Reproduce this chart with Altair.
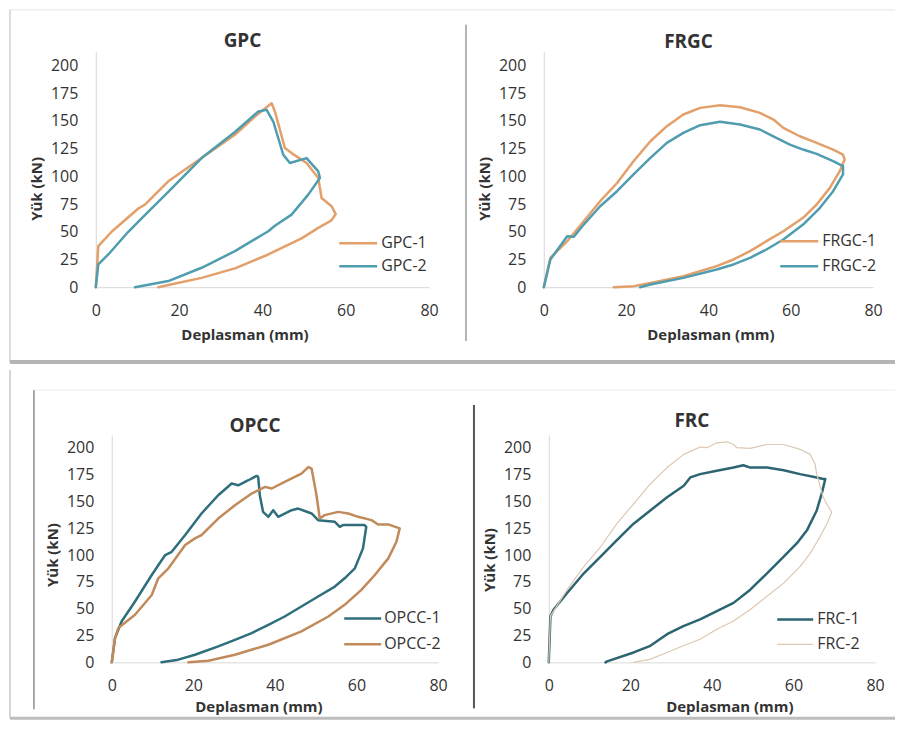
import altair as alt
import pandas as pd

FONT = "Open Sans"
X_TICKS = [0, 20, 40, 60, 80]
Y_TICKS = [0, 25, 50, 75, 100, 125, 150, 175, 200]
X_TITLE = "Deplasman (mm)"
Y_TITLE = "Yük (kN)"

# ---------------- GPC ----------------
GPC_NAMES = ["GPC-1", "GPC-2"]
GPC1_X = [0, 0.6, 3.8, 10.2, 11.8, 17.4, 25.4, 33.4, 38.2, 42.2, 43.0, 45.4, 47.0, 50.6, 53.4, 54.2, 56.6, 57.6, 56.5, 53.4, 49.4, 41.4, 33.4, 25.4, 17.4, 15.0]
GPC1_Y = [0, 37, 50, 71, 74.5, 95.5, 116.5, 137.5, 154, 166, 158.5, 125.5, 121, 112, 98.5, 80.5, 73, 66, 60, 53.5, 44, 29.5, 17, 8.4, 2, 0]
GPC2_X = [0, 0.6, 3.0, 7.8, 11.0, 17.4, 25.4, 33.4, 39.0, 41.0, 42.6, 45.0, 46.6, 50.6, 53.4, 53.8, 51.0, 47.0, 43.0, 41.4, 33.4, 25.4, 17.4, 9.4]
GPC2_Y = [0, 20.5, 29.5, 50, 62, 86, 116.5, 140, 158.5, 160, 149.5, 119.5, 112, 116.5, 104.5, 98.5, 83.5, 65.5, 55.5, 50.5, 32.5, 17.5, 5.5, 0]

# ---------------- FRGC ----------------
FRGC_NAMES = ["FRGC-1", "FRGC-2"]
FRGC1_X = [0, 1.6, 5.7, 9.7, 13.7, 17.8, 21.8, 25.9, 29.9, 33.9, 38.0, 42.8, 47.7, 52.5, 55.8, 58.2, 62.2, 66.3, 70.3, 72.7, 73.1, 71.9, 69.5, 66.3, 63.0, 58.2, 54.1, 50.1, 46.1, 42.0, 33.9, 25.9, 21.8, 17.0]
FRGC1_Y = [0, 26.5, 41.5, 59.5, 77.6, 94, 113.7, 131.7, 145.3, 155.8, 161.8, 164.2, 162.4, 157.3, 151.3, 143.8, 136.2, 130.2, 124.2, 119.7, 115.2, 104.7, 89.6, 74.6, 62.6, 50.5, 41.5, 32.5, 25, 19, 9.9, 3.9, 0.9, 0]
FRGC2_X = [0, 1.6, 5.7, 7.3, 9.7, 13.7, 17.8, 21.8, 25.9, 29.9, 33.9, 38.0, 42.8, 47.7, 52.5, 56.5, 59.8, 63.0, 66.3, 70.3, 72.7, 72.7, 70.3, 67.1, 63.0, 58.2, 54.1, 50.1, 46.1, 42.0, 33.9, 25.9, 23.4]
FRGC2_Y = [0, 25, 46, 45.5, 56.5, 73, 86.6, 101.7, 116.7, 130.2, 139.2, 146.2, 149.2, 146.8, 142.3, 134.7, 128.7, 124.2, 120.3, 113.7, 109.2, 101.7, 86.6, 71.6, 56.5, 43, 34, 26.5, 20.5, 16, 8.4, 2.4, 0]

# ---------------- OPCC ----------------
OPCC_NAMES = ["OPCC-1", "OPCC-2"]
OPCC1_X = [0, 0.8, 2.4, 5.7, 9.8, 13.1, 14.7, 18.0, 22.0, 26.1, 29.4, 31.0, 33.5, 35.5, 35.9, 36.3, 37.1, 38.4, 39.6, 40.8, 44.1, 45.7, 49.0, 50.6, 54.7, 55.9, 56.7, 58.8, 62.0, 62.4, 61.6, 59.6, 57.1, 54.7, 50.6, 46.5, 42.4, 38.4, 34.3, 30.2, 26.1, 20.4, 16.3, 12.2]
OPCC1_Y = [0, 22.6, 38, 56.7, 81.4, 100, 103, 118.6, 138.7, 155.7, 166.6, 165, 169.7, 173.7, 172.8, 155.7, 140.2, 135.6, 141.8, 135.6, 141.8, 143.3, 138.7, 132.5, 131, 126.3, 127.9, 127.9, 127.9, 126.3, 106.2, 87.6, 78.3, 70.6, 61.3, 52, 42.7, 35, 27.2, 21, 14.9, 7.1, 2.5, 0]
OPCC2_X = [0, 0.8, 1.6, 5.7, 9.8, 11.4, 13.9, 18.0, 20.4, 22.0, 26.1, 30.2, 34.3, 37.6, 39.2, 42.4, 46.5, 48.2, 49.0, 50.2, 51.0, 52.2, 55.5, 58.0, 60.4, 63.7, 65.3, 67.8, 70.6, 69.8, 67.8, 64.5, 61.2, 57.1, 53.1, 46.5, 38.4, 30.2, 23.7, 18.8]
OPCC2_Y = [0, 22.6, 31.9, 44.3, 62.8, 78.3, 87.6, 109.3, 115.5, 118.6, 134, 146.4, 157.3, 163.5, 162, 168.1, 175.9, 182, 180.5, 155.7, 134, 137.2, 140.2, 138.7, 135.6, 132.5, 128.5, 128.5, 124.8, 112.4, 96.9, 81.4, 67.5, 53.6, 42.7, 28.8, 16.4, 7.1, 1.5, 0]

# ---------------- FRC ----------------
FRC_NAMES = ["FRC-1", "FRC-2"]
FRC1_X = [0, 0.4, 1.2, 4.5, 8.6, 12.7, 16.7, 20.8, 24.9, 29.0, 33.1, 34.7, 37.1, 41.2, 45.3, 47.7, 49.4, 53.5, 57.6, 61.6, 65.7, 67.3, 67.8, 66.9, 65.7, 63.3, 60.8, 57.6, 53.5, 49.4, 45.3, 41.2, 37.1, 33.0, 29.0, 24.9, 20.8, 14.3, 13.9]
FRC1_Y = [0, 43, 49.2, 64.6, 83, 98.5, 113.8, 129.2, 141.5, 153.8, 164.6, 172.3, 175.4, 178.5, 181.5, 183.7, 181.5, 181.5, 179, 175.4, 172.3, 170.8, 170.8, 157, 141.5, 123, 110.8, 98.5, 83, 67.7, 55.4, 47.7, 40, 33.8, 26.2, 15.4, 9.2, 0.9, 0]
FRC2_X = [0, 0.4, 4.5, 8.6, 12.7, 16.7, 20.8, 24.9, 29.0, 33.1, 37.1, 38.8, 41.2, 43.7, 45.3, 46.1, 49.4, 53.5, 57.6, 61.6, 64.1, 65.3, 65.7, 67.3, 68.6, 69.4, 68.2, 66.5, 64.1, 61.6, 57.6, 53.5, 49.4, 45.3, 41.2, 37.1, 33.0, 29.0, 24.9, 20.8]
FRC2_Y = [0, 43, 67.7, 89.2, 107.7, 129.2, 147.7, 166.2, 181.5, 193.8, 200.6, 200, 204.6, 205.5, 203, 200, 199.4, 203, 203, 198.5, 193.8, 184.6, 175.4, 153.8, 144.6, 140, 129.2, 117, 101.5, 89.2, 73.8, 61.5, 49.2, 38.5, 30.8, 21.5, 15.4, 9.2, 3, 0]

ONE = pd.DataFrame({"k": [0]})


def rule(x, y, x2=None, y2=None, color="#cccccc", width=1.0):
    enc = dict(x=alt.value(x), y=alt.value(y))
    if x2 is not None:
        enc["x2"] = alt.value(x2)
    if y2 is not None:
        enc["y2"] = alt.value(y2)
    return alt.Chart(ONE).mark_rule(color=color, strokeWidth=width).encode(**enc)


def legend_layers(names, colors, widths, x1, x2, ys, lx):
    out = []
    for name, col, wd, yy in zip(names, colors, widths, ys):
        out.append(rule(x1, yy, x2=x2, color=col, width=wd))
        out.append(alt.Chart(ONE).mark_text(align="left", baseline="middle", font=FONT,
                                            fontSize=16, color="#333333").encode(
            x=alt.value(lx), y=alt.value(yy), text=alt.value(name)))
    return out


def panel(title, names, xs, ys, colors, widths, w, h, ymax, leg,
          title_offset, title_dx, xtitle_x, ytitle_y, xtitle_pad, decos,
          x_range=None, y_offset=0):
    rows = []
    for name, xv, yv in zip(names, xs, ys):
        for i, (a, b) in enumerate(zip(xv, yv)):
            rows.append({"x": a, "y": b, "series": name, "i": i})
    df = pd.DataFrame(rows)
    xscale = alt.Scale(domain=[0, 80], nice=False, range=x_range) if x_range else \
        alt.Scale(domain=[0, 80], nice=False)
    lines = alt.Chart(df).mark_line(strokeJoin="round", strokeCap="round").encode(
        x=alt.X("x:Q", scale=xscale,
                axis=alt.Axis(values=X_TICKS, title=X_TITLE, titleX=xtitle_x,
                              titlePadding=xtitle_pad)),
        y=alt.Y("y:Q", scale=alt.Scale(domain=[0, ymax], nice=False),
                axis=alt.Axis(values=Y_TICKS, title=Y_TITLE, titleY=ytitle_y, offset=y_offset)),
        color=alt.Color("series:N", scale=alt.Scale(domain=names, range=colors), legend=None),
        strokeWidth=alt.StrokeWidth("series:O", scale=alt.Scale(domain=names, range=widths), legend=None),
        order="i:Q",
    )
    leg_layers = legend_layers(names, colors, widths, *leg)
    return alt.layer(*(decos + [lines] + leg_layers)).properties(
        width=w, height=h,
        title=alt.TitleParams(title, font=FONT, fontSize=19, fontWeight="bold",
                              color="#333333", anchor="middle", frame="group",
                              dx=title_dx, offset=title_offset),
    )


ORANGE = "#E3A06B"
TEAL = "#4F9DAE"

gpc = panel("GPC", GPC_NAMES, [GPC1_X, GPC2_X], [GPC1_Y, GPC2_Y], [ORANGE, TEAL], [2.5, 2.5],
            318, 236, 212.5, (228, 266, [192, 215], 270), -42, -28, 133, 137, 9,
            [rule(-102, -42, x2=785, color="#e6e6e6", width=1),
             rule(-102, -42, y2=311, color="#d0d0d0", width=1.5),
             rule(355, -27, y2=290, color="#9a9a9a", width=1.5),
             rule(-102, 311, x2=785, color="#b5b5b5", width=4)],
            x_range=[-16, 318], y_offset=16)

frgc = panel("FRGC", FRGC_NAMES, [FRGC1_X, FRGC2_X], [FRGC1_Y, FRGC2_Y], [ORANGE, TEAL], [2.5, 2.5],
             330, 236, 212.5, (237, 275, [190, 215], 279), 0, -20, 167, 137, 9, [])

opcc = panel("OPCC", OPCC_NAMES, [OPCC1_X, OPCC2_X], [OPCC1_Y, OPCC2_Y], ["#2F6E7B", "#C08A5B"], [2.5, 2.5],
             327, 228, 212, (233, 270, [184, 210], 273), -67, -20, 147, 120, 6,
             [rule(-102, -65, y2=284, color="#c8c8c8", width=1.5),
              rule(-78, -45, y2=275, color="#8c8c8c", width=1.5),
              rule(-78, -45, x2=785, color="#ececec", width=1),
              rule(363, -30, y2=274, color="#555555", width=2),
              rule(-102, 284, x2=785, color="#bdbdbd", width=3)])

frc = panel("FRC", FRC_NAMES, [FRC1_X, FRC2_X], [FRC1_Y, FRC2_Y], ["#2C6471", "#DCC8B3"], [2.5, 1.2],
            327, 228, 212, (229, 265, [185, 210], 269), 4, -20, 181, 125, 6, [])

res = dict(color="independent", strokeWidth="independent", x="independent", y="independent")
row1 = alt.hconcat(gpc, frgc, spacing=115, bounds="flush").resolve_scale(**res)
row2 = alt.hconcat(opcc, frc, spacing=111, bounds="flush").resolve_scale(**res)

chart = alt.vconcat(row1, row2, spacing=5).properties(padding=0, background="white").configure_view(
    stroke=None
).configure_axis(
    grid=False, ticks=False, tickSize=0, domainColor="#d9d9d9", domainWidth=1,
    labelFont=FONT, labelFontSize=16, labelColor="#333333", labelFlush=False,
    titleFont=FONT, titleFontSize=15, titleFontWeight="bold", titleColor="#333333",
).configure_axisX(labelPadding=15).configure_axisY(labelPadding=18, titlePadding=6)

chart.save("out.html", embed_options={"renderer": "svg", "actions": False})
